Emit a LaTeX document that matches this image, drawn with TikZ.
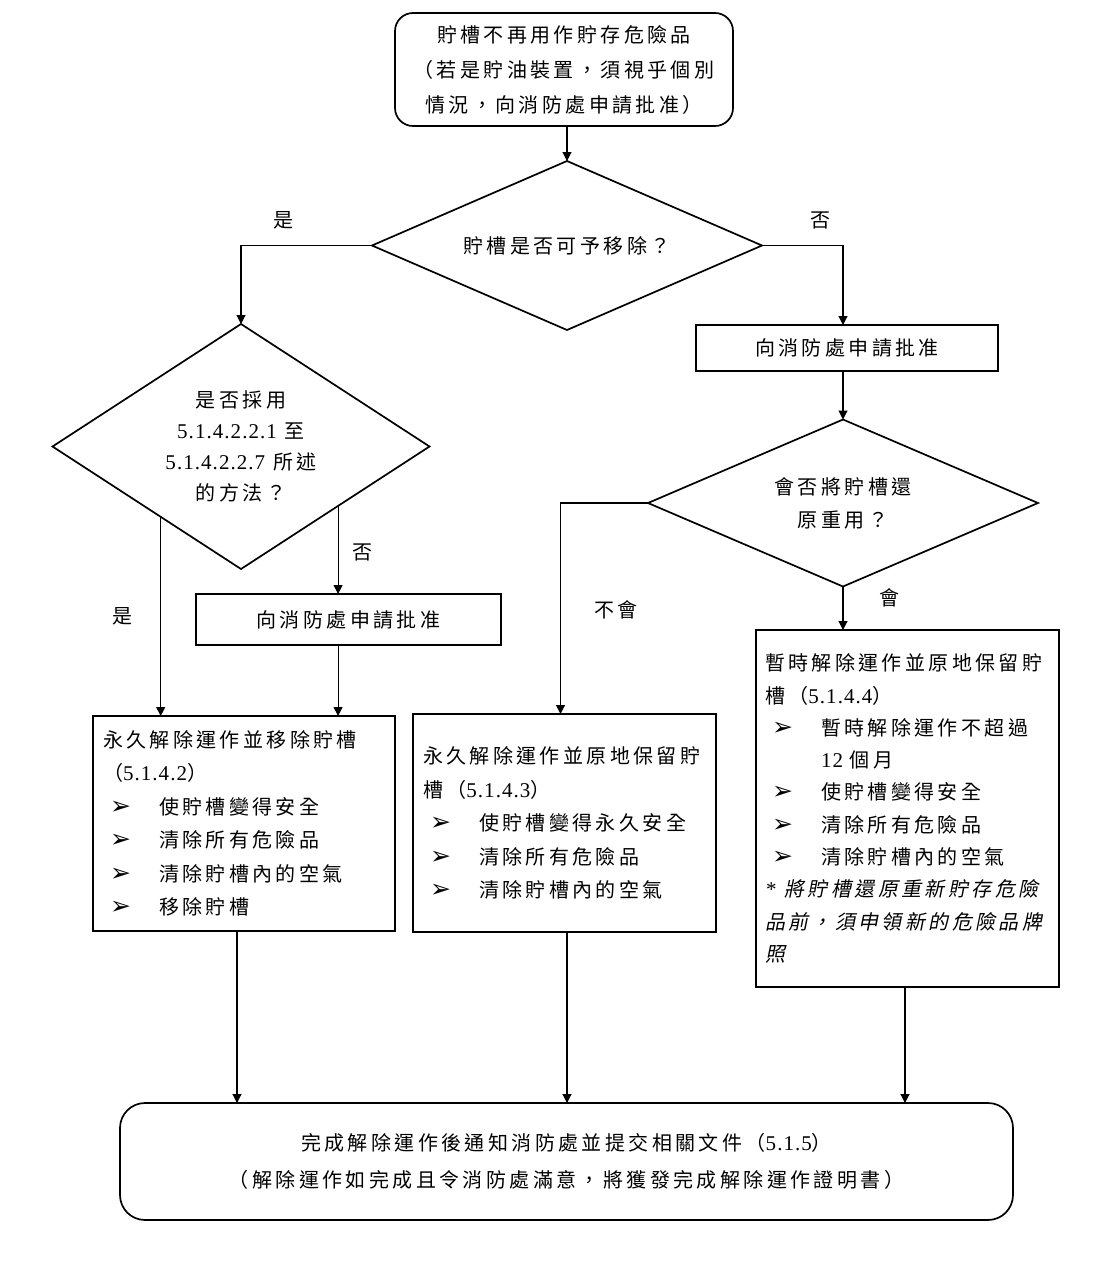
\documentclass[tikz,border=0pt]{standalone}
\usepackage{fontspec}
\setmainfont{Noto Sans CJK TC}[LetterSpace=17]
\newfontfamily\lat{Liberation Serif}[Scale=1.05,LetterSpace=5]
\newfontfamily\symf{DejaVu Sans}
\newfontfamily\cjkit{Noto Sans CJK TC}[LetterSpace=17,FakeSlant=0.2]
\usetikzlibrary{shapes.geometric,arrows.meta,calc}
\newcommand\LT[1]{{\lat #1}}
\newcommand\bul{\hspace*{7pt}\makebox[49pt][l]{\symf\fontsize{25}{20}\selectfont ➢}}
\begin{document}
\begin{tikzpicture}[x=1pt,y=-1pt,
  shp/.style={draw, line width=1.7pt, outer sep=0pt},
  rbox/.style={shp, rectangle, inner sep=0pt},
  dia/.style={shp, diamond, inner sep=0pt, align=center},
  arr/.style={line width=1.1pt, -{Triangle[length=9pt,width=9pt]}},
  lbl/.style={font=\fontsize{20}{22}\selectfont, inner sep=0pt},
  txt/.style={align=left, font=\fontsize{20}{33.5}\selectfont}]
\path[fill=white, use as bounding box] (0,0) rectangle (1113,1288);

% top box
\node[rbox, rounded corners=18pt, minimum width=338pt, minimum height=113pt,
      align=center, font=\fontsize{20}{35}\selectfont] (top) at (564,69.5)
  {貯槽不再用作貯存危險品\\（若是貯油裝置，須視乎個別\\情況，向消防處申請批准）};

% decisions
\node[dia, minimum width=390pt, minimum height=169pt, aspect=2.3,
      font=\fontsize{20}{22}\selectfont] (d1) at (567,245.5) {貯槽是否可予移除？};
\node[dia, minimum width=377pt, minimum height=245pt, aspect=1.54,
      font=\fontsize{20}{31}\selectfont] (d2) at (241,446.5)
  {是否採用\\\LT{5.1.4.2.2.1} 至\\\LT{5.1.4.2.2.7} 所述\\的方法？};
\node[dia, minimum width=390pt, minimum height=167pt, aspect=2.33,
      font=\fontsize{20}{33}\selectfont] (d3) at (843,503) {會否將貯槽還\\原重用？};

% approval boxes
\node[rbox, minimum width=302pt, minimum height=46pt, font=\fontsize{20}{22}\selectfont]
  (rb) at (847,348) {向消防處申請批准};
\node[rbox, minimum width=305pt, minimum height=51pt, font=\fontsize{20}{22}\selectfont]
  (lb) at (348.5,619.5) {向消防處申請批准};

% outcome boxes
\node[rbox, txt, minimum width=302pt, minimum height=215pt, text width=282pt]
  (b1) at (244,823.5)
  {永久解除運作並移除貯槽\\（\LT{5.1.4.2}）\\\bul 使貯槽變得安全\\\bul 清除所有危險品\\\bul 清除貯槽內的空氣\\\bul 移除貯槽};
\node[rbox, txt, minimum width=303pt, minimum height=218pt, text width=283pt]
  (b2) at (564.5,823)
  {永久解除運作並原地保留貯\\槽（\LT{5.1.4.3}）\\\bul 使貯槽變得永久安全\\\bul 清除所有危險品\\\bul 清除貯槽內的空氣};
\node[rbox, txt, font=\fontsize{20}{32.3}\selectfont, minimum width=303pt, minimum height=357pt, text width=285pt]
  (b3) at (907.5,808.5)
  {暫時解除運作並原地保留貯\\槽（\LT{5.1.4.4}）\\\bul 暫時解除運作不超過\\\hspace*{56pt}\LT{12} 個月\\\bul 使貯槽變得安全\\\bul 清除所有危險品\\\bul 清除貯槽內的空氣\\{\lat\itshape *}\hspace{9pt}{\cjkit 將貯槽還原重新貯存危險}\\{\cjkit 品前，須申領新的危險品牌}\\{\cjkit 照}};

% final box
\node[rbox, rounded corners=25pt, minimum width=893pt, minimum height=117pt,
      align=center, font=\fontsize{20}{37}\selectfont] (fin) at (566.5,1161.5)
  {完成解除運作後通知消防處並提交相關文件（\LT{5.1.5}）\\（解除運作如完成且令消防處滿意，將獲發完成解除運作證明書）};

% connectors
\draw[arr] (d1.north |- top.south) -- (d1.north);
\draw[arr] (d1.west) -| (d2.north);
\draw[arr] (d1.east) -| (rb.north -| d3.north);
\draw[arr] (d3.north |- rb.south) -- (d3.north);
\draw[arr] (d3.west) -| ([xshift=-4pt]b2.north);
\draw[arr] (d3.south) -- (d3.south |- b3.north);
\coordinate (d2a) at ($(d2.west)!0.574!(d2.south)$);
\coordinate (d2b) at ($(d2.south)!0.515!(d2.east)$);
\draw[arr] (d2a) -- (d2a |- b1.north);
\draw[arr] (d2b) -- (d2b |- lb.north);
\draw[arr] (d2b |- lb.south) -- (d2b |- b1.north);
\draw[arr] ([xshift=-7pt]b1.south) -- ([xshift=-7pt]b1.south |- fin.north);
\draw[arr] ([xshift=2.5pt]b2.south) -- ([xshift=2.5pt]b2.south |- fin.north);
\draw[arr] ([xshift=-2.5pt]b3.south) -- ([xshift=-2.5pt]b3.south |- fin.north);

% branch labels
\node[lbl] (l1) at (283,220) {是};
\node[lbl] (l2) at (820,220) {否};
\node[lbl] (l3) at (122,616) {是};
\node[lbl] (l4) at (362,552) {否};
\node[lbl] (l5) at (616,610) {不會};
\node[lbl] (l6) at (889,598) {會};
\end{tikzpicture}
\end{document}
